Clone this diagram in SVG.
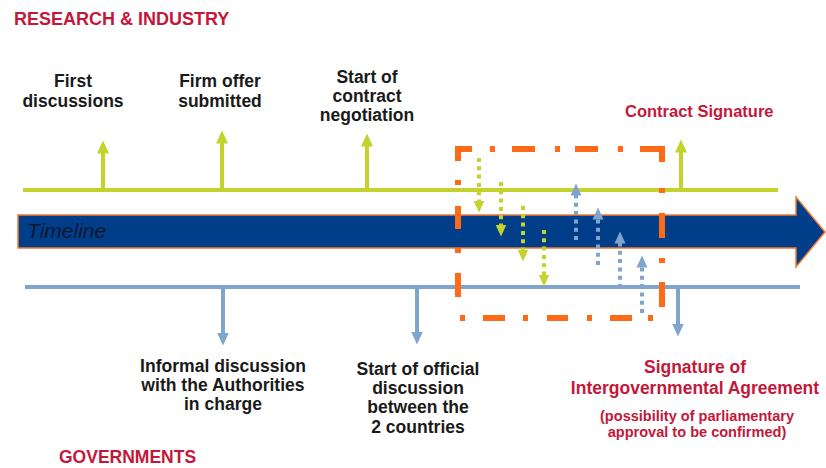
<svg xmlns="http://www.w3.org/2000/svg" width="826" height="468" viewBox="0 0 826 468">
  <style>
    .lbl { font-family: "Liberation Sans", Arial, sans-serif; font-weight: bold; fill: #1a1a1a; text-anchor: middle; }
    .top { font-size: 17.5px; }
    .bot { font-size: 18.5px; }
    .red { font-family: "Liberation Sans", Arial, sans-serif; font-weight: bold; fill: #C4173A; }
    .green { stroke: #C3D32B; stroke-width: 4; fill: none; }
    .blue { stroke: #80A5CD; stroke-width: 4; fill: none; }
    .dot { stroke-dasharray: 4 4.3; }
    .frame { stroke: #FF6A16; stroke-width: 6; fill: none; stroke-linejoin: miter; }
  </style>
  <defs>
    <marker id="headGreen" viewBox="0 -7 14 14" refX="0.5" refY="0" markerWidth="14" markerHeight="14" markerUnits="userSpaceOnUse" orient="auto">
      <path d="M0,-6 L13,0 L0,6 Z" fill="#C3D32B"/>
    </marker>
    <marker id="headBlue" viewBox="0 -7 14 14" refX="0.5" refY="0" markerWidth="14" markerHeight="14" markerUnits="userSpaceOnUse" orient="auto">
      <path d="M0,-6 L13,0 L0,6 Z" fill="#80A5CD"/>
    </marker>
    <marker id="headGreenS" viewBox="0 -7 14 14" refX="0.5" refY="0" markerWidth="14" markerHeight="14" markerUnits="userSpaceOnUse" orient="auto">
      <path d="M0,-5.5 L12,0 L0,5.5 Z" fill="#C3D32B"/>
    </marker>
    <marker id="headBlueS" viewBox="0 -7 14 14" refX="0.5" refY="0" markerWidth="14" markerHeight="14" markerUnits="userSpaceOnUse" orient="auto">
      <path d="M0,-5.5 L12,0 L0,5.5 Z" fill="#80A5CD"/>
    </marker>
  </defs>

  <rect width="826" height="468" fill="#ffffff"/>

  <!-- section headings -->
  <text x="14" y="25" class="red" font-size="18">RESEARCH &amp; INDUSTRY</text>
  <text x="59" y="463" class="red" font-size="17.5">GOVERNMENTS</text>

  <!-- industry and government tracks -->
  <g id="tracks">
    <line x1="23" y1="190" x2="778" y2="190" class="green"/>
    <line x1="25" y1="287" x2="800" y2="287" class="blue"/>
  </g>

  <!-- timeline arrow -->
  <g id="timeline">
    <path d="M18,215 H796 V197 L825,232 L796,267 V248 H18 Z" fill="#003E8A" stroke="#F07A30" stroke-width="1.5"/>
    <text x="27" y="238" font-family="Liberation Sans, Arial, sans-serif" font-style="italic" font-size="21" fill="#0B1733">Timeline</text>
  </g>

  <g id="connectors">
    <!-- milestones on the industry track -->
    <line x1="103" y1="190" x2="103" y2="153" class="green" marker-end="url(#headGreen)"/>
    <line x1="222" y1="190" x2="222" y2="143" class="green" marker-end="url(#headGreen)"/>
    <line x1="367" y1="190" x2="367" y2="146" class="green" marker-end="url(#headGreen)"/>
    <line x1="681" y1="190" x2="681" y2="152" class="green" marker-end="url(#headGreen)"/>
    <!-- milestones on the government track -->
    <line x1="223" y1="287" x2="223" y2="333" class="blue" marker-end="url(#headBlue)"/>
    <line x1="417" y1="287" x2="417" y2="332" class="blue" marker-end="url(#headBlue)"/>
    <line x1="678" y1="287" x2="678" y2="324" class="blue" marker-end="url(#headBlue)"/>
    <!-- exchanges during the negotiation phase -->
    <line x1="479" y1="158" x2="479" y2="201" class="green dot" marker-end="url(#headGreenS)"/>
    <line x1="501" y1="182" x2="501" y2="225" class="green dot" marker-end="url(#headGreenS)"/>
    <line x1="523" y1="206" x2="523" y2="250" class="green dot" marker-end="url(#headGreenS)"/>
    <line x1="544" y1="230" x2="544" y2="275" class="green dot" marker-end="url(#headGreenS)"/>
    <line x1="576" y1="240" x2="576" y2="195" class="blue dot" marker-end="url(#headBlueS)"/>
    <line x1="598" y1="265" x2="598" y2="219" class="blue dot" marker-end="url(#headBlueS)"/>
    <line x1="620" y1="288" x2="620" y2="243" class="blue dot" marker-end="url(#headBlueS)"/>
    <line x1="642" y1="313" x2="642" y2="267" class="blue dot" marker-end="url(#headBlueS)"/>
  </g>

  <!-- dash-dot frame around the negotiation phase -->
  <g id="phase-frame">
    <path class="frame" d="M458,161 V149 H472
      M490,149 h5 M512,149 h23 M555,149 h5 M575,149 h23 M618,149 h5
      M640,149 H662 V162
      M662,188 v5 M662,213 v25 M662,258 v5 M662,282 v25
      M458,180 v5 M458,206 v23 M458,248 v5 M458,273 v24
      M460,318 h5 M483,318 h22 M523,318 h5 M547,318 h21 M587,318 h5 M610,318 h22 M648,318 h5"/>
  </g>

  <!-- industry milestone labels -->
  <g id="first-discussions">
    <text class="lbl top"><tspan x="73" y="87">First</tspan><tspan x="73" y="107">discussions</tspan></text>
  </g>
  <g id="firm-offer">
    <text class="lbl top"><tspan x="220" y="87">Firm offer</tspan><tspan x="220" y="107">submitted</tspan></text>
  </g>
  <g id="contract-negotiation">
    <text class="lbl top"><tspan x="367" y="83">Start of</tspan><tspan x="367" y="102">contract</tspan><tspan x="367" y="121">negotiation</tspan></text>
  </g>
  <g id="contract-signature">
    <text x="625" y="117" class="red" font-size="16.5">Contract Signature</text>
  </g>

  <!-- government milestone labels -->
  <g id="informal-discussion">
    <text class="lbl bot" transform="translate(223,0) scale(0.95,1)"><tspan x="0" y="372">Informal discussion</tspan><tspan x="0" y="391">with the Authorities</tspan><tspan x="0" y="410">in charge</tspan></text>
  </g>
  <g id="official-discussion">
    <text class="lbl bot" transform="translate(418,0) scale(0.95,1)"><tspan x="0" y="375">Start of official</tspan><tspan x="0" y="394">discussion</tspan><tspan x="0" y="413">between the</tspan><tspan x="0" y="433">2 countries</tspan></text>
  </g>
  <g id="intergovernmental-agreement">
    <text class="red" font-size="17.5" text-anchor="middle"><tspan x="695" y="373">Signature of</tspan><tspan x="695" y="394">Intergovernmental Agreement</tspan></text>
    <text class="red" font-size="14" text-anchor="middle" transform="translate(697,0) scale(1.04,1)"><tspan x="0" y="421">(possibility of parliamentary</tspan><tspan x="0" y="437">approval to be confirmed)</tspan></text>
  </g>
</svg>
